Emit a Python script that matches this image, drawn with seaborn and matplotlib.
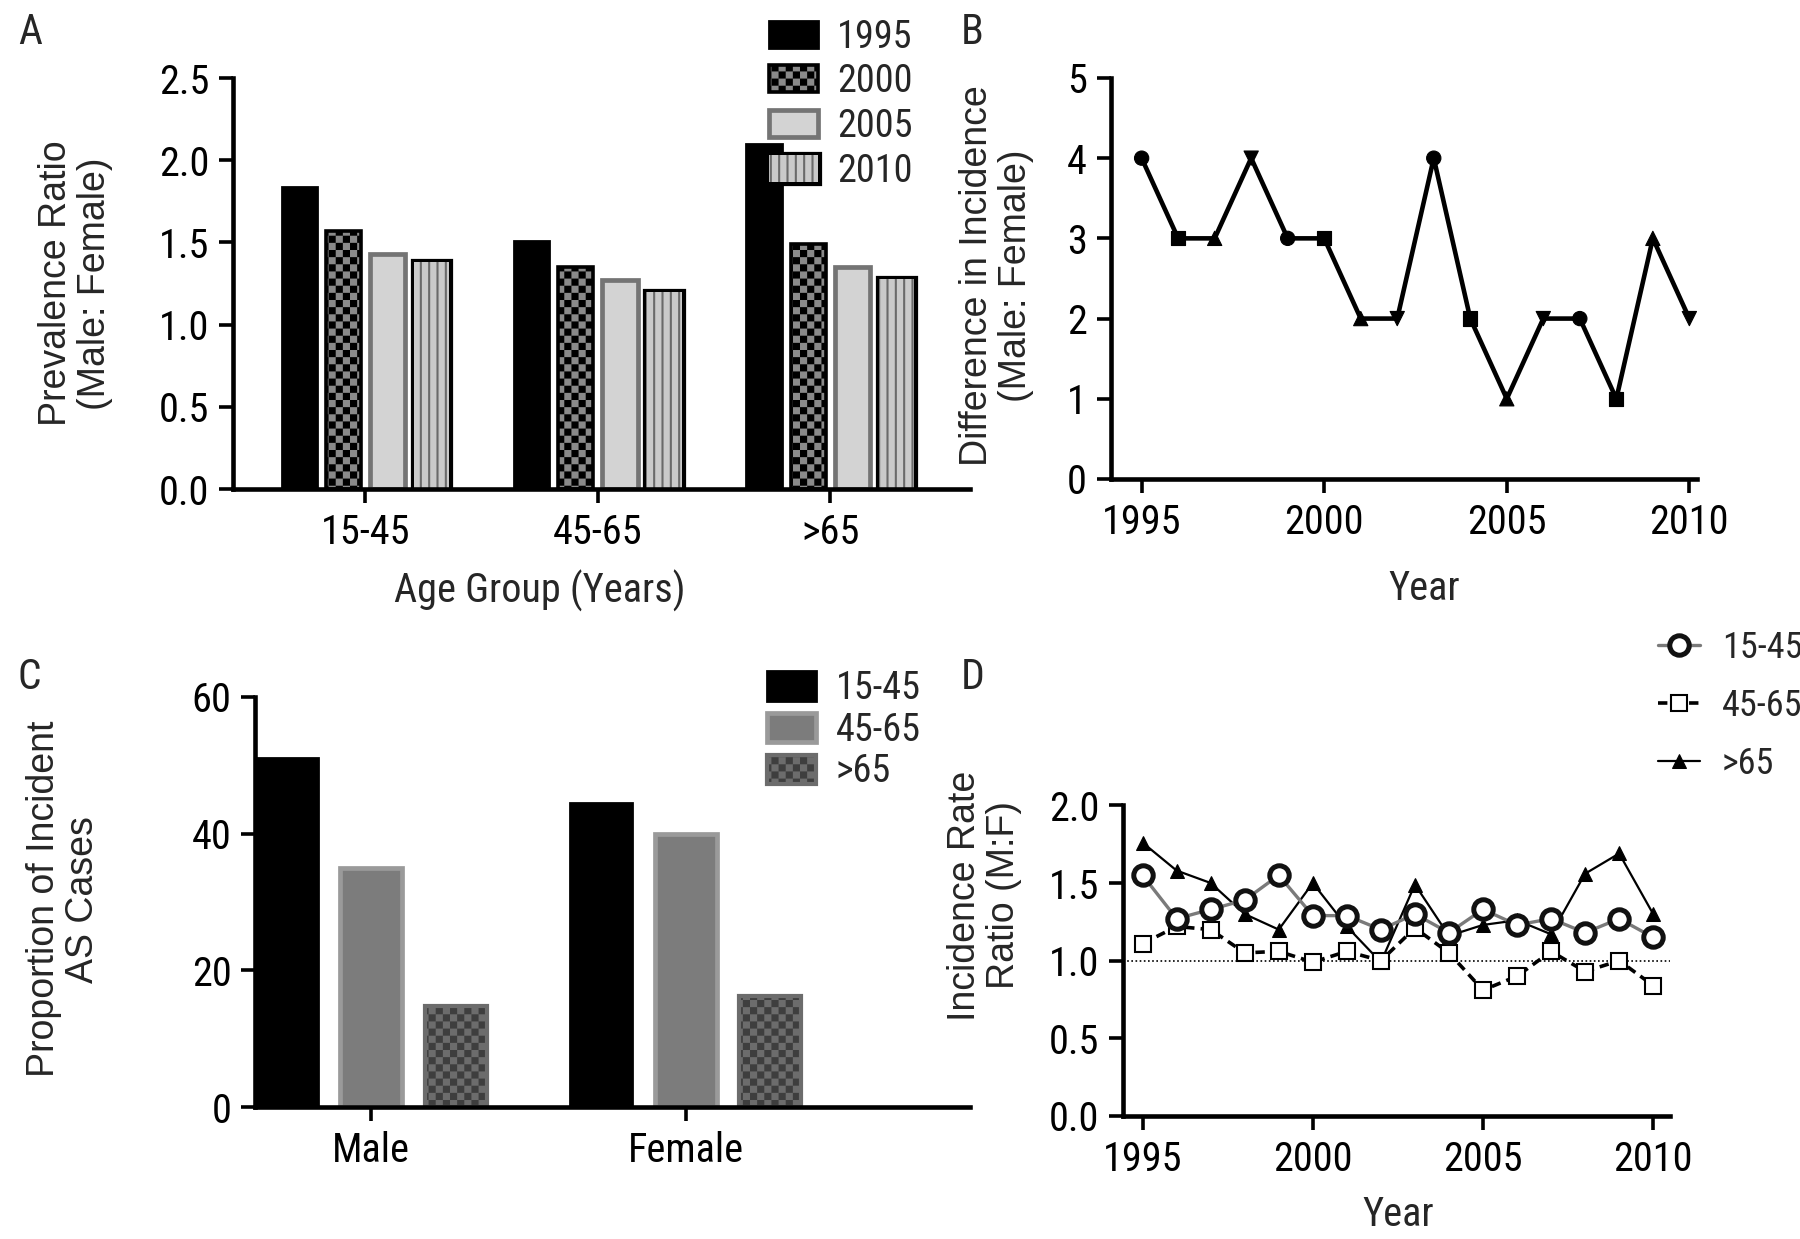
import warnings
import numpy as np
import pandas as pd
import matplotlib
matplotlib.use('Agg')
import matplotlib.pyplot as plt
import matplotlib.patheffects as pe
from matplotlib import font_manager
from matplotlib import hatch as mhatch
from matplotlib.path import Path
import seaborn as sns

warnings.filterwarnings('ignore')

# Panel A - prevalence ratio (male:female) by age group and year
age_groups = ['15-45', '45-65', '>65']
prev_years = ['1995', '2000', '2005', '2010']
prev_1995 = [1.84, 1.51, 2.10]
prev_2000 = [1.57, 1.35, 1.49]
prev_2005 = [1.43, 1.27, 1.35]
prev_2010 = [1.38, 1.20, 1.28]

# Panel B - difference in incidence per year
years = list(range(1995, 2011))
incidence_diff = [4, 3, 3, 4, 3, 3, 2, 2, 4, 2, 1, 2, 2, 1, 3, 2]

# Panel C - proportion of incident AS cases
sexes = ['Male', 'Female']
prop_15_45 = [51.0, 44.5]
prop_45_65 = [35.0, 40.0]
prop_over65 = [14.8, 16.2]

# Panel D - incidence rate ratio (M:F)
irr_15_45 = [1.55, 1.27, 1.33, 1.39, 1.55, 1.29, 1.29, 1.20, 1.30, 1.18, 1.33, 1.23, 1.27, 1.18, 1.27, 1.15]
irr_45_65 = [1.11, 1.22, 1.20, 1.05, 1.06, 0.99, 1.06, 1.00, 1.21, 1.05, 0.81, 0.90, 1.06, 0.93, 1.00, 0.84]
irr_over65 = [1.76, 1.58, 1.50, 1.30, 1.20, 1.50, 1.22, 0.99, 1.49, 1.16, 1.23, 1.26, 1.17, 1.56, 1.69, 1.30]

sns.set_style('ticks')

# narrow font if one is around, else Liberation Sans
names = {f.name for f in font_manager.fontManager.ttflist}
narrow = next((n for n in ['Liberation Sans Narrow', 'Arial Narrow', 'Roboto Condensed',
                           'Open Sans Condensed'] if n in names), 'Liberation Sans')
NARROW = [narrow, 'Liberation Sans', 'DejaVu Sans']
WIDE = ['Liberation Sans', 'DejaVu Sans']
plt.rcParams['font.family'] = NARROW
plt.rcParams['hatch.linewidth'] = 1.5


# checkerboard hatch ('#'), like the GraphPad fill pattern
class CheckerHatch(mhatch.HatchPatternBase):
    def __init__(self, hatch, density):
        self.n = 14 if '#' in hatch else 0
        self.num_vertices = 5 * (self.n * self.n // 2)

    def set_vertices_and_codes(self, vertices, codes):
        n = self.n
        cell = 1.0 / n
        inset = plt.rcParams['hatch.linewidth'] / 2 / 72
        k = 0
        for i in range(n):
            for j in range(n):
                if (i + j) % 2:
                    continue
                x0, y0 = i * cell + inset, j * cell + inset
                x1, y1 = (i + 1) * cell - inset, (j + 1) * cell - inset
                vertices[k:k + 5] = [(x0, y0), (x1, y0), (x1, y1), (x0, y1), (x0, y0)]
                codes[k:k + 5] = [Path.MOVETO, Path.LINETO, Path.LINETO, Path.LINETO, Path.CLOSEPOLY]
                k += 5


mhatch._hatch_types.append(CheckerHatch)

TICK = 29
LEG = 27.5
LAB = 27
XLAB = 29


def style_axes(ax):
    sns.despine(ax=ax)
    ax.tick_params(direction='out', length=10, width=2.6, labelsize=TICK, pad=7, colors='black')
    for s in ['left', 'bottom']:
        ax.spines[s].set_linewidth(3.3)
        ax.spines[s].set_color('black')


def style_bars(ax, styles):
    for cont, st in zip(ax.containers, styles):
        for p in cont.patches:
            p.set_facecolor(st['fc'])
            p.set_edgecolor(st['ec'])
            p.set_linewidth(st['lw'])
            if st.get('hatch'):
                p.set_hatch(st['hatch'])
            if st.get('border'):
                # outer border in a different colour than the hatch lines
                p.set_path_effects([pe.Stroke(linewidth=st['border'][1], foreground=st['border'][0]),
                                    pe.Normal()])


fig = plt.figure(figsize=(18, 12.39), dpi=100)

# ---------------- Panel A ----------------
axA = fig.add_axes([0.1294, 0.6053, 0.4094, 0.3317])
dfA = pd.DataFrame({
    'age': age_groups * 4,
    'year': sum([[y] * 3 for y in prev_years], []),
    'ratio': prev_1995 + prev_2000 + prev_2005 + prev_2010,
})
sns.barplot(data=dfA, x='age', y='ratio', hue='year', width=0.76, gap=0.2,
            palette=['black', '#8a8a8a', '#d3d3d3', '#c8c8c8'], legend=False, ax=axA)
style_bars(axA, [
    dict(fc='black', ec='black', lw=2),
    dict(fc='#8a8a8a', ec='black', hatch='#', lw=2.6),
    dict(fc='#d3d3d3', ec='#747474', lw=3.4),
    dict(fc='#cacaca', ec='#6a6a6a', hatch='||', lw=0, border=('black', 5.2)),
])
axA.set_ylim(0, 2.5)
axA.set_xlim(-0.57, 2.6)
axA.set_yticks(np.arange(0, 2.51, 0.5))
axA.set_yticklabels([f'{v:.1f}' for v in np.arange(0, 2.51, 0.5)])
style_axes(axA)
axA.set_xlabel('Age Group (Years)', fontsize=XLAB)
axA.xaxis.set_label_coords(0.417, -0.248)
axA.xaxis.label.set_va('center')
axA.set_ylabel('Prevalence Ratio\n(Male: Female)', fontsize=LAB, family=WIDE, linespacing=1.1)
axA.yaxis.set_label_coords(-0.214, 0.5)
axA.yaxis.label.set_va('center')
fig.legend(axA.containers, prev_years, loc='upper left', bbox_to_anchor=(0.427, 0.985),
           frameon=False, fontsize=LEG, handlelength=1.3, handleheight=0.7,
           handletextpad=0.5, labelspacing=0.2, borderpad=0, borderaxespad=0)

# ---------------- Panel B ----------------
axB = fig.add_axes([0.617, 0.6134, 0.326, 0.3237])
dfB = pd.DataFrame({'year': years, 'diff': incidence_diff})
dfB['shape'] = [['c', 's', 'u', 'd'][i % 4] for i in range(len(years))]
sns.lineplot(data=dfB, x='year', y='diff', color='black', lw=3.3, ax=axB)
sns.scatterplot(data=dfB, x='year', y='diff', style='shape',
                markers={'c': 'o', 's': 's', 'u': '^', 'd': 'v'}, color='black',
                s=105, edgecolor='black', legend=False, ax=axB, zorder=3)
axB.set_xlim(1994.15, 2010.22)
axB.set_ylim(0, 5)
axB.set_xticks([1995, 2000, 2005, 2010])
axB.set_yticks(range(0, 6))
style_axes(axB)
axB.set_xlabel('Year', fontsize=XLAB)
axB.xaxis.set_label_coords(0.534, -0.274)
axB.xaxis.label.set_va('center')
axB.set_ylabel('Difference in Incidence\n(Male: Female)', fontsize=LAB, family=WIDE, linespacing=1.1)
axB.yaxis.set_label_coords(-0.195, 0.506)
axB.yaxis.label.set_va('center')

# ---------------- Panel C ----------------
axC = fig.add_axes([0.1417, 0.1065, 0.3973, 0.331])
dfC = pd.DataFrame({
    'sex': sexes * 3,
    'age': sum([[a] * 2 for a in age_groups], []),
    'prop': prop_15_45 + prop_45_65 + prop_over65,
})
sns.barplot(data=dfC, x='sex', y='prop', hue='age', width=0.805, gap=0.265,
            palette=['black', '#7c7c7c', '#3c3c3c'], legend=False, ax=axC)
style_bars(axC, [
    dict(fc='black', ec='black', lw=2),
    dict(fc='#7c7c7c', ec='#9a9a9a', lw=3.4),
    dict(fc='#3e3e3e', ec='#6c6c6c', hatch='#', lw=3.0),
])
axC.set_ylim(0, 60)
axC.set_xlim(-0.37, 1.905)
axC.set_yticks([0, 20, 40, 60])
style_axes(axC)
axC.set_xlabel('')
axC.set_ylabel('Proportion of Incident\nAS Cases', fontsize=LAB, family=WIDE, linespacing=1.1)
axC.yaxis.set_label_coords(-0.268, 0.507)
axC.yaxis.label.set_va('center')
fig.legend(axC.containers, age_groups, loc='upper left', bbox_to_anchor=(0.426, 0.459),
           frameon=False, fontsize=LEG, handlelength=1.3, handleheight=0.8,
           handletextpad=0.5, labelspacing=0.12, borderpad=0, borderaxespad=0)

# ---------------- Panel D ----------------
axD = fig.add_axes([0.624, 0.0993, 0.3039, 0.2507])
dfD = pd.DataFrame({'year': years, 'a': irr_15_45, 'b': irr_45_65, 'c': irr_over65})
axD.axhline(1.0, color='black', lw=1.2, ls=(0, (1, 1.5)), zorder=1)
sns.lineplot(data=dfD, x='year', y='c', color='black', lw=1.6, marker='^',
             markersize=10, mfc='black', mec='black', ax=axD)
sns.lineplot(data=dfD, x='year', y='b', color='black', lw=2.6, dashes=False,
             linestyle=(0, (2.6, 1.7)), marker='s', markersize=11.5, mfc='white',
             mec='black', mew=1.5, ax=axD)
sns.lineplot(data=dfD, x='year', y='a', color='#7a7a7a', lw=2.4, marker='o',
             markersize=14, mfc='white', mec='#111111', mew=3.6, ax=axD)
lines_D = axD.get_lines()
axD.set_xlim(1994.43, 2010.5)
axD.set_ylim(0, 2.0)
axD.set_xticks([1995, 2000, 2005, 2010])
axD.set_yticks(np.arange(0, 2.01, 0.5))
axD.set_yticklabels([f'{v:.1f}' for v in np.arange(0, 2.01, 0.5)])
style_axes(axD)
axD.set_xlabel('Year', fontsize=XLAB)
axD.xaxis.set_label_coords(0.503, -0.318)
axD.xaxis.label.set_va('center')
axD.set_ylabel('Incidence Rate\nRatio (M:F)', fontsize=LAB, family=WIDE, linespacing=1.1)
axD.yaxis.set_label_coords(-0.254, 0.71)
axD.yaxis.label.set_va('center')
fig.legend([lines_D[3], lines_D[2], lines_D[1]], age_groups, loc='upper left',
           bbox_to_anchor=(0.921, 0.4916), frameon=False, fontsize=26,
           handlelength=1.17, handletextpad=0.6, labelspacing=0.61,
           borderpad=0, borderaxespad=0)

# panel letters
for letter, x, y in [('A', 0.010, 0.990), ('B', 0.534, 0.990), ('C', 0.010, 0.470), ('D', 0.534, 0.470)]:
    fig.text(x, y, letter, fontsize=30, ha='left', va='top')

fig.savefig('out.png', dpi=100)
